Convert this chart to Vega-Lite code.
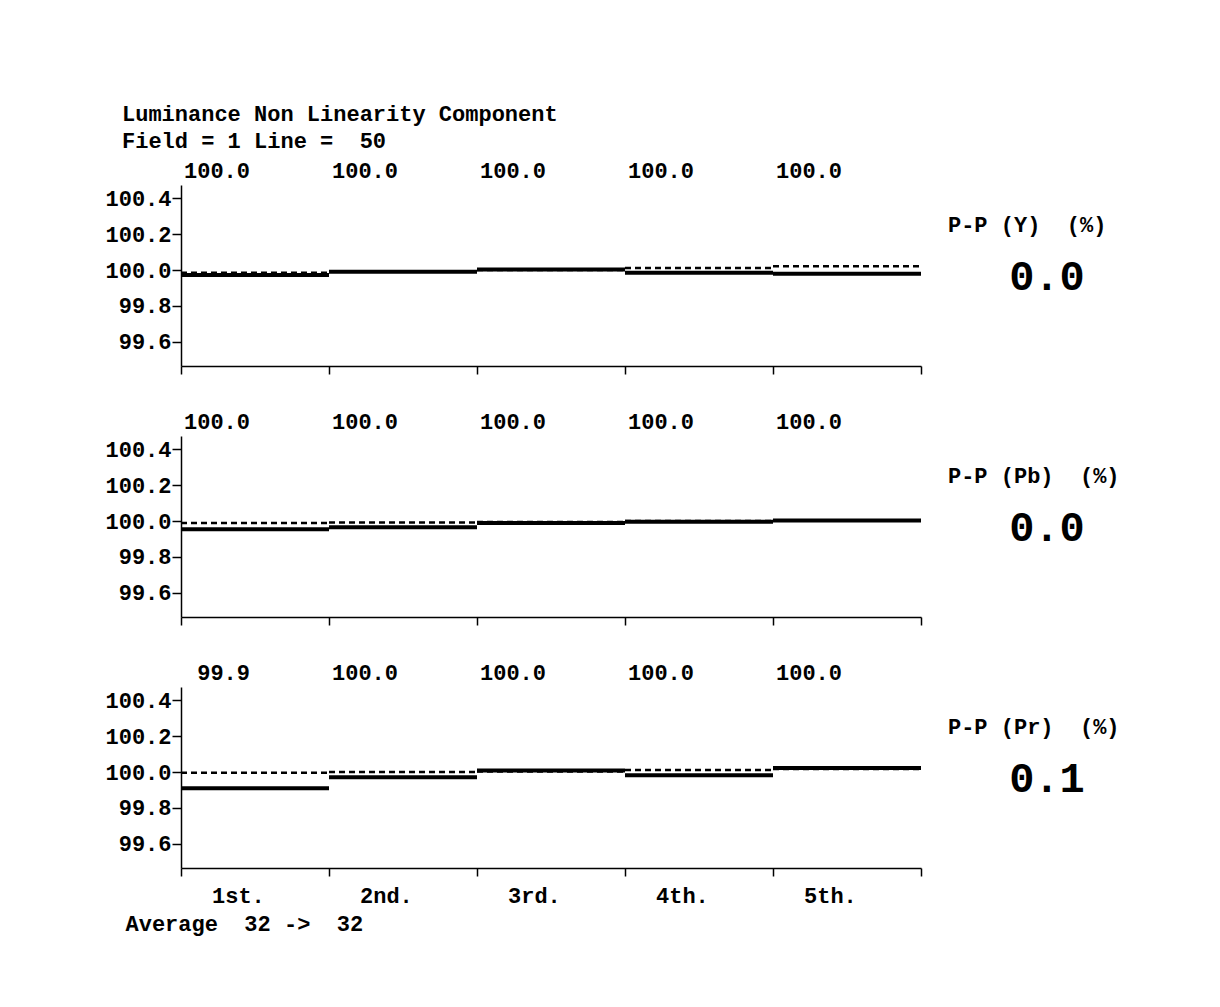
{
  "$schema": "https://vega.github.io/schema/vega-lite/v6.json",
  "autosize": {"type": "none"},
  "padding": {"left": 181, "top": 185, "right": 1039, "bottom": 822},
  "background": "white",
  "title": {
    "text": "Luminance Non Linearity Component",
    "subtitle": "Field = 1 Line =\u00a0\u00a050",
    "anchor": "start",
    "frame": "group",
    "dx": -59,
    "offset": 7,
    "font": "Liberation Mono",
    "fontSize": 22,
    "fontWeight": "bold",
    "color": "#000",
    "subtitleFont": "Liberation Mono",
    "subtitleFontSize": 22,
    "subtitleFontWeight": "bold",
    "subtitleColor": "#000",
    "subtitlePadding": 5
  },
  "datasets": {
    "runs": [
      {"panel": "Y", "run": "1st.", "from": 0, "to": 1, "meas": 99.973, "ref": 99.985},
      {"panel": "Y", "run": "2nd.", "from": 1, "to": 2, "meas": 99.991, "ref": 99.992},
      {"panel": "Y", "run": "3rd.", "from": 2, "to": 3, "meas": 100.004, "ref": 100.0},
      {"panel": "Y", "run": "4th.", "from": 3, "to": 4, "meas": 99.985, "ref": 100.012},
      {"panel": "Y", "run": "5th.", "from": 4, "to": 5, "meas": 99.98, "ref": 100.022},
      {"panel": "Pb", "run": "1st.", "from": 0, "to": 1, "meas": 99.955, "ref": 99.99},
      {"panel": "Pb", "run": "2nd.", "from": 1, "to": 2, "meas": 99.966, "ref": 99.993},
      {"panel": "Pb", "run": "3rd.", "from": 2, "to": 3, "meas": 99.99, "ref": 99.995},
      {"panel": "Pb", "run": "4th.", "from": 3, "to": 4, "meas": 99.997, "ref": 100.0},
      {"panel": "Pb", "run": "5th.", "from": 4, "to": 5, "meas": 100.004, "ref": 100.004},
      {"panel": "Pr", "run": "1st.", "from": 0, "to": 1, "meas": 99.91, "ref": 99.996},
      {"panel": "Pr", "run": "2nd.", "from": 1, "to": 2, "meas": 99.971, "ref": 100.0},
      {"panel": "Pr", "run": "3rd.", "from": 2, "to": 3, "meas": 100.009, "ref": 100.004},
      {"panel": "Pr", "run": "4th.", "from": 3, "to": 4, "meas": 99.982, "ref": 100.012},
      {"panel": "Pr", "run": "5th.", "from": 4, "to": 5, "meas": 100.023, "ref": 100.018}
    ],
    "pp": [
      {"panel": "Y", "label": "P-P (Y)\u00a0\u00a0(%)", "pp": 0.0},
      {"panel": "Pb", "label": "P-P (Pb)\u00a0\u00a0(%)", "pp": 0.0},
      {"panel": "Pr", "label": "P-P (Pr)\u00a0\u00a0(%)", "pp": 0.1}
    ]
  },
  "spacing": 70,
  "bounds": "flush",
  "config": {
    "view": {"stroke": null},
    "axis": {
      "grid": false,
      "domainColor": "#000",
      "domainWidth": 1.5,
      "tickColor": "#000",
      "tickWidth": 1.5,
      "labelFont": "Liberation Mono",
      "labelFontSize": 22,
      "labelFontWeight": "bold",
      "labelColor": "#000",
      "titleFont": "Liberation Mono",
      "titleFontSize": 22,
      "titleFontWeight": "bold",
      "titleColor": "#000"
    },
    "text": {"font": "Liberation Mono", "fontSize": 22, "fontWeight": "bold", "color": "#000", "baseline": "middle"}
  },
  "vconcat": [
    {
      "width": 740,
      "height": 181,
      "layer": [
        {
          "data": {"name": "runs"},
          "transform": [{"filter": "datum.panel === 'Y'"}],
          "mark": {"type": "rule", "strokeWidth": 4, "color": "#000"},
          "encoding": {
            "x": {"field": "from", "type": "quantitative", "scale": {"domain": [0, 5], "nice": false, "zero": false}, "axis": {"values": [0, 1, 2, 3, 4, 5], "labels": false, "tickSize": 8, "title": null}},
            "x2": {"field": "to"},
            "y": {"field": "meas", "type": "quantitative", "scale": {"domain": [99.465, 100.475], "nice": false, "zero": false}, "axis": {"values": [99.6, 99.8, 100.0, 100.2, 100.4], "format": ".1f", "tickSize": 9, "labelPadding": 1, "title": null}}
          }
        },
        {
          "data": {"name": "runs"},
          "transform": [{"filter": "datum.panel === 'Y'"}],
          "mark": {"type": "rule", "strokeWidth": 2.5, "strokeDash": [6, 4], "color": "#000"},
          "encoding": {"x": {"field": "from", "type": "quantitative"}, "x2": {"field": "to"}, "y": {"field": "ref", "type": "quantitative"}}
        },
        {
          "data": {"name": "runs"},
          "transform": [{"filter": "datum.panel === 'Y'"}],
          "mark": {"type": "text", "align": "right", "dx": 69},
          "encoding": {"x": {"field": "from", "type": "quantitative"}, "y": {"datum": 100.555}, "text": {"field": "meas", "format": ".1f"}}
        },
        {
          "data": {"name": "pp"},
          "transform": [{"filter": "datum.panel === 'Y'"}],
          "mark": {"type": "text", "align": "left"},
          "encoding": {"x": {"datum": 5.182}, "y": {"datum": 100.252}, "text": {"field": "label"}}
        },
        {
          "data": {"name": "pp"},
          "transform": [{"filter": "datum.panel === 'Y'"}],
          "mark": {"type": "text", "align": "center", "fontSize": 42, "fontWeight": "bold"},
          "encoding": {"x": {"datum": 5.851}, "y": {"datum": 99.96}, "text": {"field": "pp", "format": ".1f"}}
        }
      ]
    },
    {
      "width": 740,
      "height": 181,
      "layer": [
        {
          "data": {"name": "runs"},
          "transform": [{"filter": "datum.panel === 'Pb'"}],
          "mark": {"type": "rule", "strokeWidth": 4, "color": "#000"},
          "encoding": {
            "x": {"field": "from", "type": "quantitative", "scale": {"domain": [0, 5], "nice": false, "zero": false}, "axis": {"values": [0, 1, 2, 3, 4, 5], "labels": false, "tickSize": 8, "title": null}},
            "x2": {"field": "to"},
            "y": {"field": "meas", "type": "quantitative", "scale": {"domain": [99.465, 100.475], "nice": false, "zero": false}, "axis": {"values": [99.6, 99.8, 100.0, 100.2, 100.4], "format": ".1f", "tickSize": 9, "labelPadding": 1, "title": null}}
          }
        },
        {
          "data": {"name": "runs"},
          "transform": [{"filter": "datum.panel === 'Pb'"}],
          "mark": {"type": "rule", "strokeWidth": 2.5, "strokeDash": [6, 4], "color": "#000"},
          "encoding": {"x": {"field": "from", "type": "quantitative"}, "x2": {"field": "to"}, "y": {"field": "ref", "type": "quantitative"}}
        },
        {
          "data": {"name": "runs"},
          "transform": [{"filter": "datum.panel === 'Pb'"}],
          "mark": {"type": "text", "align": "right", "dx": 69},
          "encoding": {"x": {"field": "from", "type": "quantitative"}, "y": {"datum": 100.555}, "text": {"field": "meas", "format": ".1f"}}
        },
        {
          "data": {"name": "pp"},
          "transform": [{"filter": "datum.panel === 'Pb'"}],
          "mark": {"type": "text", "align": "left"},
          "encoding": {"x": {"datum": 5.182}, "y": {"datum": 100.252}, "text": {"field": "label"}}
        },
        {
          "data": {"name": "pp"},
          "transform": [{"filter": "datum.panel === 'Pb'"}],
          "mark": {"type": "text", "align": "center", "fontSize": 42, "fontWeight": "bold"},
          "encoding": {"x": {"datum": 5.851}, "y": {"datum": 99.96}, "text": {"field": "pp", "format": ".1f"}}
        }
      ]
    },
    {
      "width": 740,
      "height": 181,
      "layer": [
        {
          "data": {"name": "runs"},
          "transform": [{"filter": "datum.panel === 'Pr'"}],
          "mark": {"type": "rule", "strokeWidth": 4, "color": "#000"},
          "encoding": {
            "x": {"field": "from", "type": "quantitative", "scale": {"domain": [0, 5], "nice": false, "zero": false}, "axis": {"values": [0, 1, 2, 3, 4, 5], "labels": false, "tickSize": 8, "title": "Average\u00a0\u00a032 ->\u00a0\u00a032", "titleAnchor": "start", "titleAlign": "left", "titleBaseline": "middle", "titleX": -56, "titleY": 55}},
            "x2": {"field": "to"},
            "y": {"field": "meas", "type": "quantitative", "scale": {"domain": [99.465, 100.475], "nice": false, "zero": false}, "axis": {"values": [99.6, 99.8, 100.0, 100.2, 100.4], "format": ".1f", "tickSize": 9, "labelPadding": 1, "title": null}}
          }
        },
        {
          "data": {"name": "runs"},
          "transform": [{"filter": "datum.panel === 'Pr'"}],
          "mark": {"type": "rule", "strokeWidth": 2.5, "strokeDash": [6, 4], "color": "#000"},
          "encoding": {"x": {"field": "from", "type": "quantitative"}, "x2": {"field": "to"}, "y": {"field": "ref", "type": "quantitative"}}
        },
        {
          "data": {"name": "runs"},
          "transform": [{"filter": "datum.panel === 'Pr'"}],
          "mark": {"type": "text", "align": "right", "dx": 69},
          "encoding": {"x": {"field": "from", "type": "quantitative"}, "y": {"datum": 100.555}, "text": {"field": "meas", "format": ".1f"}}
        },
        {
          "data": {"name": "runs"},
          "transform": [{"filter": "datum.panel === 'Pr'"}],
          "mark": {"type": "text", "align": "left", "dx": 31},
          "encoding": {"x": {"field": "from", "type": "quantitative"}, "y": {"datum": 99.307}, "text": {"field": "run"}}
        },
        {
          "data": {"name": "pp"},
          "transform": [{"filter": "datum.panel === 'Pr'"}],
          "mark": {"type": "text", "align": "left"},
          "encoding": {"x": {"datum": 5.182}, "y": {"datum": 100.252}, "text": {"field": "label"}}
        },
        {
          "data": {"name": "pp"},
          "transform": [{"filter": "datum.panel === 'Pr'"}],
          "mark": {"type": "text", "align": "center", "fontSize": 42, "fontWeight": "bold"},
          "encoding": {"x": {"datum": 5.851}, "y": {"datum": 99.96}, "text": {"field": "pp", "format": ".1f"}}
        }
      ]
    }
  ]
}
